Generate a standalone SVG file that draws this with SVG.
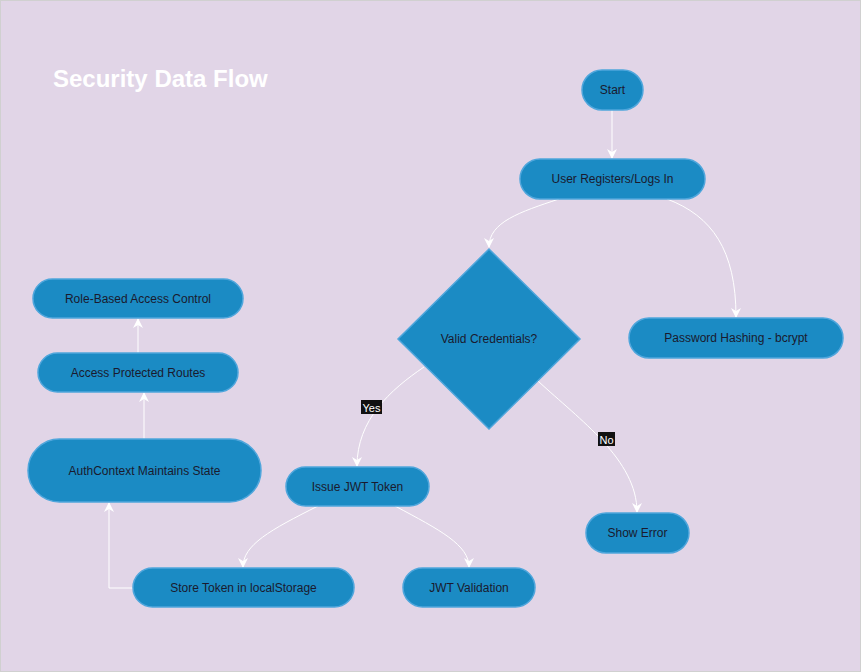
<svg xmlns="http://www.w3.org/2000/svg" width="861" height="672" viewBox="0 0 861 672">
<defs>
<marker id="arr" viewBox="0 0 10 10" refX="9" refY="5" markerWidth="10" markerHeight="10" orient="auto-start-reverse" markerUnits="userSpaceOnUse"><path d="M0,0 L10,5 L0,10 L3,5 Z" fill="#ffffff"/></marker>
<style>
.n{fill:#1b8bc4;stroke:#4fa6dc;stroke-width:1.5}
.t{font-family:"Liberation Sans",Arial,sans-serif;font-size:12px;fill:#1a1a2e;text-anchor:middle;dominant-baseline:central}
.e{fill:none;stroke:#ffffff;stroke-width:1;marker-end:url(#arr)}
.lb{fill:#111111}
.lt{font-family:"Liberation Sans",Arial,sans-serif;font-size:11px;fill:#ffffff;text-anchor:middle;dominant-baseline:central}
</style>
</defs>
<rect x="0.5" y="0.5" width="860" height="671" fill="#e1d5e7" stroke="#d0d0d0"/>
<text x="53" y="87" font-family="'Liberation Sans',Arial,sans-serif" font-size="24" font-weight="bold" fill="#ffffff">Security Data Flow</text>
<g id="connectors">
<path class="e" d="M612,110 L612,158"/>
<path class="e" d="M559,199 C520,212 489,222 489,247"/>
<path class="e" d="M667,199 C712,216 736,250 736,317"/>
<path class="e" d="M424,367 C390,390 357,420 357,466"/>
<path class="e" d="M538,381 C580,420 637,460 637,512"/>
<path class="e" d="M318,506 C270,530 243,545 243,567"/>
<path class="e" d="M395,506 C440,530 469,545 469,567"/>
<path class="e" d="M133,588 L109,588 L109,503"/>
<path class="e" d="M144,439 L144,393"/>
<path class="e" d="M138,353 L138,319"/>
<rect class="lb" x="361" y="400" width="21" height="14"/>
<text class="lt" x="371.5" y="407.5">Yes</text>
<rect class="lb" x="598" y="432" width="17" height="14"/>
<text class="lt" x="606.5" y="439.5">No</text>
</g>
<g id="start"><rect class="n" x="582" y="70" width="61" height="40" rx="20"/><text class="t" x="612.5" y="90">Start</text></g>
<g id="user"><rect class="n" x="520" y="159" width="185" height="40" rx="20"/><text class="t" x="612.5" y="179">User Registers/Logs In</text></g>
<g id="valid"><polygon class="n" points="489,249 580,339 489,429 398,339"/><text class="t" x="489" y="339">Valid Credentials?</text></g>
<g id="hash"><rect class="n" x="629" y="318" width="214" height="40" rx="20"/><text class="t" x="736" y="338">Password Hashing - bcrypt</text></g>
<g id="rbac"><rect class="n" x="33" y="279" width="210" height="39" rx="19.5"/><text class="t" x="138" y="298.5">Role-Based Access Control</text></g>
<g id="routes"><rect class="n" x="38" y="353" width="200" height="39" rx="19.5"/><text class="t" x="138" y="372.5">Access Protected Routes</text></g>
<g id="auth"><rect class="n" x="28" y="439" width="233" height="63" rx="31.5"/><text class="t" x="144.5" y="470.5">AuthContext Maintains State</text></g>
<g id="issue"><rect class="n" x="286" y="467" width="143" height="39" rx="19.5"/><text class="t" x="357.5" y="486.5">Issue JWT Token</text></g>
<g id="error"><rect class="n" x="586" y="513" width="103" height="40" rx="20"/><text class="t" x="637.5" y="533">Show Error</text></g>
<g id="store"><rect class="n" x="133" y="568" width="221" height="39" rx="19.5"/><text class="t" x="243.5" y="587.5">Store Token in localStorage</text></g>
<g id="validation"><rect class="n" x="403" y="568" width="132" height="39" rx="19.5"/><text class="t" x="469" y="587.5">JWT Validation</text></g>
</svg>
